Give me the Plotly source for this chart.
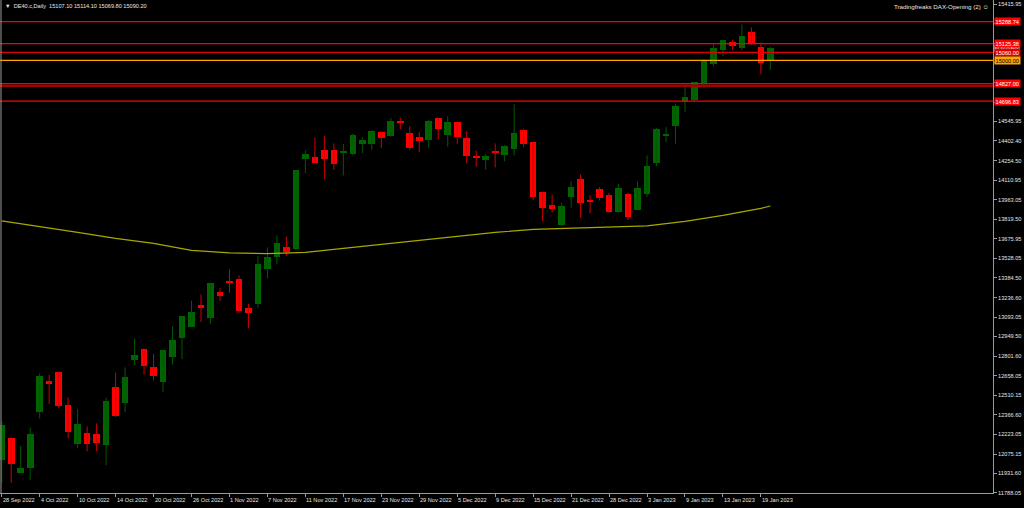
import plotly.graph_objects as go

# ---------------- data ----------------
dates = ["2022-09-28","2022-09-29","2022-09-30",
 "2022-10-03","2022-10-04","2022-10-05","2022-10-06","2022-10-07","2022-10-10","2022-10-11","2022-10-12","2022-10-13","2022-10-14",
 "2022-10-17","2022-10-18","2022-10-19","2022-10-20","2022-10-21","2022-10-24","2022-10-25","2022-10-26","2022-10-27","2022-10-28","2022-10-31",
 "2022-11-01","2022-11-02","2022-11-03","2022-11-04","2022-11-07","2022-11-08","2022-11-09","2022-11-10","2022-11-11","2022-11-14","2022-11-15",
 "2022-11-16","2022-11-17","2022-11-18","2022-11-21","2022-11-22","2022-11-23","2022-11-24","2022-11-25","2022-11-28","2022-11-29","2022-11-30",
 "2022-12-01","2022-12-02","2022-12-05","2022-12-06","2022-12-07","2022-12-08","2022-12-09","2022-12-12","2022-12-13","2022-12-14","2022-12-15",
 "2022-12-16","2022-12-19","2022-12-20","2022-12-21","2022-12-22","2022-12-23","2022-12-27","2022-12-28","2022-12-29","2022-12-30",
 "2023-01-02","2023-01-03","2023-01-04","2023-01-05","2023-01-06","2023-01-09","2023-01-10","2023-01-11","2023-01-12","2023-01-13",
 "2023-01-16","2023-01-17","2023-01-18","2023-01-19","2023-01-20"]

opens = [12028,12191,11937,11969,12385,12615,12682,12437,12147,12234,12221,12139,12573,12454,12776,12853,12721,12608,12795,12937,
 13021,13182,13088,13276,13363,13373,13157,13187,13447,13541,13611,13596,14268,14279,14331,14331,14310,14307,14378,14380,
 14468,14440,14549,14463,14429,14408,14569,14443,14540,14421,14282,14259,14327,14294,14341,14480,14393,14024,13928,13774,
 13982,14116,13962,14042,13997,13876,14004,13888,14004,14235,14441,14510,14693,14705,14827,14976,15074,15136,15094,15213,
 15097,14998]
highs = [12320,12201,12134,12273,12674,12665,12690,12496,12409,12281,12303,12494,12680,12719,12934,12858,12818,12850,13024,13100,
 13215,13261,13348,13308,13447,13402,13192,13546,13611,13700,13690,14185,14331,14428,14438,14383,14380,14455,14430,14483,
 14473,14571,14576,14510,14467,14557,14575,14584,14545,14473,14330,14302,14383,14370,14673,14492,14395,14026,14004,13943,
 14103,14153,13999,14059,14017,14084,14017,14099,14294,14497,14504,14678,14827,14840,15007,15119,15150,15151,15267,15245,
 15132,15100]
lows = [11862,11862,11930,11882,12340,12449,12420,12191,12117,12095,12097,11993,12350,12387,12736,12665,12622,12538,12739,12781,
 13018,13056,13044,13212,13274,13125,13009,13163,13380,13484,13546,13590,14163,14235,14118,14188,14145,14294,14311,14337,
 14351,14433,14490,14334,14321,14348,14413,14359,14381,14235,14210,14188,14205,14250,14294,14356,13960,13804,13870,13770,
 13906,13831,13863,13960,13868,13868,13814,13885,13987,14215,14393,14381,14619,14693,14792,14957,15032,15077,15077,15114,
 14896,14930]
closes = [12290,11998,11974,12223,12652,12595,12429,12238,12301,12147,12160,12466,12357,12645,12808,12732,12654,12845,12925,13098,
 13130,13160,13343,13249,13345,13137,13122,13484,13539,13645,13576,14183,14308,14237,14267,14232,14327,14446,14405,14478,
 14426,14551,14542,14351,14403,14552,14487,14542,14429,14290,14275,14289,14319,14363,14458,14376,13984,13903,13898,13918,
 14059,13938,13952,13977,13876,14054,13836,14054,14215,14492,14450,14660,14727,14837,15000,15094,15149,15106,15178,15126,
 14980,15090.2]

# moving average (read at every 4th bar)
ma_dates = ["2022-09-28","2022-10-04","2022-10-10","2022-10-14","2022-10-20","2022-10-26","2022-11-01","2022-11-07","2022-11-11",
 "2022-11-17","2022-11-23","2022-11-29","2022-12-05","2022-12-09","2022-12-15","2022-12-21","2022-12-28","2023-01-03","2023-01-09",
 "2023-01-13","2023-01-19","2023-01-20"]
ma_values = [13808,13767,13722,13677,13640,13588,13570,13564,13573,13603,13632,13662,13692,13722,13744,13752,13759,13770,13804,
 13848,13900,13918]

# x tick labels (every 4th bar)
xtick_dates = ["2022-09-28","2022-10-04","2022-10-10","2022-10-14","2022-10-20","2022-10-26","2022-11-01","2022-11-07","2022-11-11",
 "2022-11-17","2022-11-23","2022-11-29","2022-12-05","2022-12-09","2022-12-15","2022-12-21","2022-12-28","2023-01-03","2023-01-09",
 "2023-01-13","2023-01-19"]
xtick_labels = ["28 Sep 2022","4 Oct 2022","10 Oct 2022","14 Oct 2022","20 Oct 2022","26 Oct 2022","1 Nov 2022","7 Nov 2022",
 "11 Nov 2022","17 Nov 2022","23 Nov 2022","29 Nov 2022","5 Dec 2022","9 Dec 2022","15 Dec 2022","21 Dec 2022","28 Dec 2022",
 "3 Jan 2023","9 Jan 2023","13 Jan 2023","19 Jan 2023"]

ytick_vals = [15415.95,15270.95,15125.45,14980.95,14835.45,14690.45,14545.95,14402.40,14254.50,14110.95,13963.05,13819.50,13675.95,
 13528.05,13384.50,13236.60,13093.05,12949.50,12801.60,12658.05,12510.15,12366.60,12223.05,12075.15,11931.60,11788.05]
# tick labels hidden behind the price-level boxes in the reference
ytick_hidden = [15270.95, 15125.45, 14980.95, 14835.45, 14690.45]

level_values = [15288.74, 15125.38, 15060.00, 15000.00, 14827.00, 14696.83]
level_colors = ["#ff0000", "#ff0000", "#e00000", "#ffa500", "#ff0000", "#ff0000"]
level_text = ["#ffffff", "#ffffff", "#ffffff", "#000000", "#ffffff", "#ffffff"]
band_value = 14812.0
current_price = 15090.20

header_text = "▼  DE40.c,Daily  15107.10 15114.10 15069.80 15090.20"
indicator_text = "Tradingfreaks DAX-Opening (2) ☺"

# ---------------- geometry ----------------
W, H = 1024, 508
PLOT_W, PLOT_H = 993, 493
UP, DOWN = "#006400", "#ff0000"
UP_W, DOWN_W = "#005a00", "#d00000"
FONT = "Liberation Sans"
FG = "#e6e6e6"

fig = go.Figure()

# bodies
base = [min(o, c) for o, c in zip(opens, closes)]
height = [max(abs(c - o), 9) for o, c in zip(opens, closes)]
cols = [UP if c >= o else DOWN for o, c in zip(opens, closes)]

# wicks
def wick(sel):
    xs, ys = [], []
    for d, o, h, l, c in zip(dates, opens, highs, lows, closes):
        if sel(o, c):
            xs += [d, d, None]
            ys += [l, h, None]
    return xs, ys

xu, yu = wick(lambda o, c: c >= o)
xd, yd = wick(lambda o, c: c < o)
fig.add_trace(go.Scatter(x=xu, y=yu, mode="lines", line=dict(color=UP_W, width=1), hoverinfo="skip", showlegend=False))
fig.add_trace(go.Scatter(x=xd, y=yd, mode="lines", line=dict(color=DOWN_W, width=1), hoverinfo="skip", showlegend=False))
fig.add_trace(go.Bar(x=dates, y=height, base=base, width=0.7, marker=dict(color=cols, line=dict(width=0)), showlegend=False))

# MA line
fig.add_trace(go.Scatter(x=ma_dates, y=ma_values, mode="lines", line=dict(color="#a8a800", width=1.2), showlegend=False))

shapes = []
for v, col in zip(level_values, level_colors):
    shapes.append(dict(type="line", xref="paper", x0=0, x1=1, yref="y", y0=v, y1=v, line=dict(color=col, width=1.3)))
shapes.append(dict(type="line", xref="paper", x0=0, x1=1, yref="y", y0=band_value, y1=band_value, line=dict(color="#a00000", width=2.5)))
shapes.append(dict(type="line", xref="paper", x0=0.001, x1=0.001, yref="paper", y0=0, y1=1, line=dict(color="#9a9a9a", width=1)))

ann = []
# x tick labels (left aligned after tick)
for d, t in zip(xtick_dates, xtick_labels):
    ann.append(dict(x=d, xref="x", y=0, yref="paper", yshift=-2, text=t, showarrow=False, xanchor="left", yanchor="top",
                    xshift=-1, font=dict(family=FONT, size=5.6, color=FG)))
# current price label
ann.append(dict(x=1, xref="paper", xanchor="left", xshift=1, y=current_price, yref="y", yanchor="middle",
                text=f"{current_price:.2f}", showarrow=False, bgcolor="#ffffff", borderpad=0.5,
                font=dict(family=FONT, size=5.6, color="#000000")))
for v, col, tc in zip(level_values, level_colors, level_text):
    ann.append(dict(x=1, xref="paper", xanchor="left", xshift=1, y=v, yref="y", yanchor="middle",
                    text=f"{v:.2f}", showarrow=False, bgcolor=col, borderpad=0.6,
                    font=dict(family=FONT, size=5.6, color=tc)))
ann.append(dict(x=3 / PLOT_W, xref="paper", y=1 - 6 / PLOT_H, yref="paper", xanchor="left", yanchor="middle",
                text=header_text, showarrow=False, font=dict(family=FONT, size=5.6, color=FG)))
ann.append(dict(x=991 / PLOT_W, xref="paper", y=1 - 6.5 / PLOT_H, yref="paper", xanchor="right", yanchor="middle",
                text=indicator_text, showarrow=False, font=dict(family=FONT, size=6.2, color=FG)))

fig.update_layout(
    width=W, height=H,
    margin=dict(l=0, r=W - PLOT_W, t=0, b=H - PLOT_H, pad=0),
    paper_bgcolor="#000000", plot_bgcolor="#000000",
    bargap=0, showlegend=False,
    shapes=shapes, annotations=ann,
    xaxis=dict(type="category", categoryorder="array", categoryarray=dates,
               range=[-0.18, (PLOT_W - 1.7) / 9.49], showgrid=False, zeroline=False,
               showline=True, linecolor="#9a9a9a", linewidth=1,
               ticks="outside", ticklen=3, tickcolor="#9a9a9a", tickvals=xtick_dates,
               showticklabels=False, fixedrange=True),
    yaxis=dict(side="right", range=[11785.8, 11785.8 + PLOT_H * 7.43], showgrid=False, zeroline=False,
               showline=True, linecolor="#9a9a9a", linewidth=1, ticks="outside", ticklen=3, tickcolor="#9a9a9a",
               tickvals=ytick_vals,
               ticktext=["" if v in ytick_hidden else f"{v:.2f}" for v in ytick_vals],
               tickfont=dict(family=FONT, size=5.6, color=FG), automargin=False, fixedrange=True),
)

fig.write_html("out.html", config={"displayModeBar": False},
               post_script="document.body.style.margin='0';document.body.style.background='#000';")
